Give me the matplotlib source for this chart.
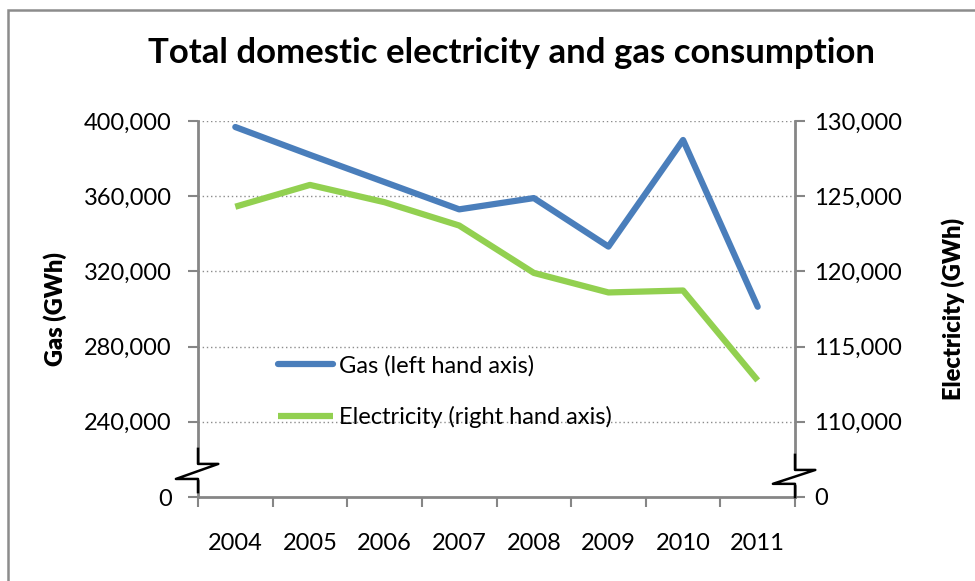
import numpy as np
import matplotlib.pyplot as plt
from matplotlib.lines import Line2D
from matplotlib.patches import Rectangle

plt.rcParams['font.family'] = ['Lato', 'DejaVu Sans']

years = ['2004', '2005', '2006', '2007', '2008', '2009', '2010', '2011']
gas = [396800, 382000, 367500, 353000, 359000, 333200, 389900, 301200]
electricity = [124300, 125750, 124600, 123050, 119900, 118600, 118730, 112750]

gas_ticks = [200000, 240000, 280000, 320000, 360000, 400000]
gas_labels = ['0', '240,000', '280,000', '320,000', '360,000', '400,000']
elec_ticks = [105000, 110000, 115000, 120000, 125000, 130000]
elec_labels = ['0', '110,000', '115,000', '120,000', '125,000', '130,000']

W, H = 975, 581
fig = plt.figure(figsize=(W / 100, H / 100), dpi=100)

# outer chart border (right/bottom edges cut off in the original)
fig.patches.append(Rectangle((8 / W, -0.1), 1.1, 1 - 10 / H + 0.1, transform=fig.transFigure,
                             fill=False, edgecolor='#8c8c8c', linewidth=1.8))

ax = fig.add_axes([198 / W, 84 / H, 597 / W, 376 / H])
ax2 = ax.twinx()

x = np.arange(len(years))
axis_grey = '#868686'

l1, = ax.plot(x, gas, color='#4a7ebb', linewidth=4.5, solid_capstyle='round', label='Gas (left hand axis)')
l2, = ax2.plot(x, electricity, color='#92d050', linewidth=4.5, solid_capstyle='butt',
               label='Electricity (right hand axis)')

ax.set_xlim(-0.5, len(years) - 0.5)
ax.set_ylim(200000, 400000)
ax2.set_ylim(105000, 130000)

for t in gas_ticks[1:]:
    ax.axhline(t, color='#8c8c8c', linewidth=1, linestyle=(0, (1, 2)), zorder=0)

ax.set_yticks(gas_ticks)
ax.set_yticklabels(gas_labels)
ax2.set_yticks(elec_ticks)
ax2.set_yticklabels(elec_labels)
ax.set_xticks(x)
ax.set_xticklabels(years)
ax.set_xticks(np.arange(-0.5, len(years)), minor=True)

ax.tick_params(axis='y', labelsize=17, length=7, width=1.5, color=axis_grey, pad=12)
ax2.tick_params(axis='y', labelsize=17, length=7, width=1.5, color=axis_grey, pad=7)
ax.tick_params(axis='x', which='major', length=0, labelsize=17, pad=26)
ax.tick_params(axis='x', which='minor', length=7, width=1.5, color=axis_grey)

for a in (ax, ax2):
    a.spines['top'].set_visible(False)
    for s in ('left', 'right', 'bottom'):
        a.spines[s].set_color(axis_grey)
        a.spines[s].set_linewidth(2)
ax.spines['right'].set_visible(False)
ax2.spines['left'].set_visible(False)
ax2.spines['bottom'].set_visible(False)

ax.set_ylabel('Gas (GWh)', fontsize=17, fontweight='heavy', labelpad=12)
ax2.set_ylabel('Electricity (GWh)', fontsize=17, fontweight='heavy', labelpad=28)

# axis break marks
def axis_break(a, x0, y_hi, y_lo, dx_in, dx_out):
    a.add_patch(Rectangle((x0 - 0.004, y_lo), 0.008, y_hi - y_lo, transform=a.transAxes,
                          color='white', clip_on=False, zorder=5))
    xs = [x0, x0, x0 + dx_in, x0 + dx_out, x0, x0]
    ys = [y_hi + 0.04, y_hi, y_hi, y_lo, y_lo, y_lo - 0.035]
    a.add_line(Line2D(xs, ys, transform=a.transAxes, color='black', linewidth=1.8,
                      clip_on=False, zorder=6))

axis_break(ax2, 0.0, 0.088, 0.048, 0.034, -0.037)
axis_break(ax2, 1.0, 0.072, 0.035, 0.034, -0.037)

ax.legend(handles=[l1, l2], loc='upper left', bbox_to_anchor=(0.134, 0.378), frameon=False,
          fontsize=17, handlelength=2.35, handletextpad=0.22, labelspacing=1.25,
          borderaxespad=0, borderpad=0)

fig.text(512 / W, 1 - 53 / H, 'Total domestic electricity and gas consumption', ha='center', va='center',
         fontsize=25, fontweight='bold')

fig.savefig('out.png', dpi=100)
